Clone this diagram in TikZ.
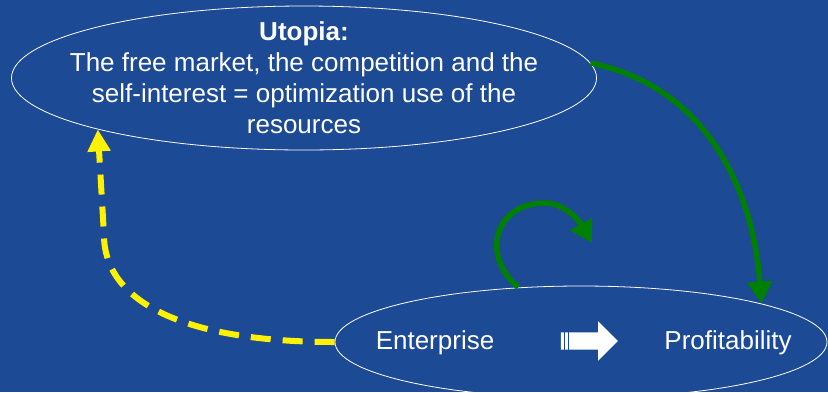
\documentclass[tikz,border=0pt]{standalone}
\usepackage{fontspec}
\setmainfont{Liberation Sans}
\usetikzlibrary{shapes.geometric,shapes.arrows,arrows.meta}
\definecolor{slideblue}{RGB}{28,74,148}
\definecolor{loopgreen}{RGB}{0,128,0}
\begin{document}
\begin{tikzpicture}[x=1pt,y=-1pt,
	oval/.style={ellipse,draw=white,line width=0.8pt,inner sep=0},
	words/.style={text=white,font=\fontsize{26}{31}\selectfont,align=center,inner sep=0},
	greenarc/.style={draw=loopgreen,line width=5.5pt,-{Triangle[width=24pt,length=22pt]}},
	yellowarc/.style={draw=yellow,line width=6pt,dash pattern=on 20pt off 12pt,
		-{Triangle[width=22pt,length=22pt]}}]
\fill[slideblue] (0,0) rectangle (828,392);
\useasboundingbox (0,0) rectangle (828,392);
% the two ovals
\node[oval,minimum width=585pt,minimum height=144pt] (utopia) at (304,78) {};
\node[oval,minimum width=492pt,minimum height=112pt] (firm) at (581,342) {};
\node[words] (utopiatext) at (utopia.center)
	{\textbf{Utopia:}\\The free market, the competition and the\\
	self-interest = optimization use of the\\resources};
\node[words] (enterprise) at (435,343) {Enterprise};
\node[words] (profit) at (728,343) {Profitability};
% white block arrow
\node[single arrow,fill=white,inner xsep=0,inner ysep=8.5pt,minimum height=57pt,
	single arrow head extend=11pt] (leads) at (585,341) {};
\draw[slideblue,line width=0.8pt] (leads.west) ++(4,-9) -- ++(0,18) ++(4,-18) -- ++(0,18);
% connectors
\coordinate (loopend) at (592,243);
\draw[greenarc] (utopia.3) .. controls (700,85) and (752,180) .. (firm.12);
\draw[greenarc] (firm.139) .. controls (480,255) and (495,203) .. (545,203)
	.. controls (565,203) and (580,222) .. (loopend);
\draw[yellowarc] (firm.west) .. controls (180,342) and (104,300) .. (104,235) -- (utopia.194);
\end{tikzpicture}
\end{document}
